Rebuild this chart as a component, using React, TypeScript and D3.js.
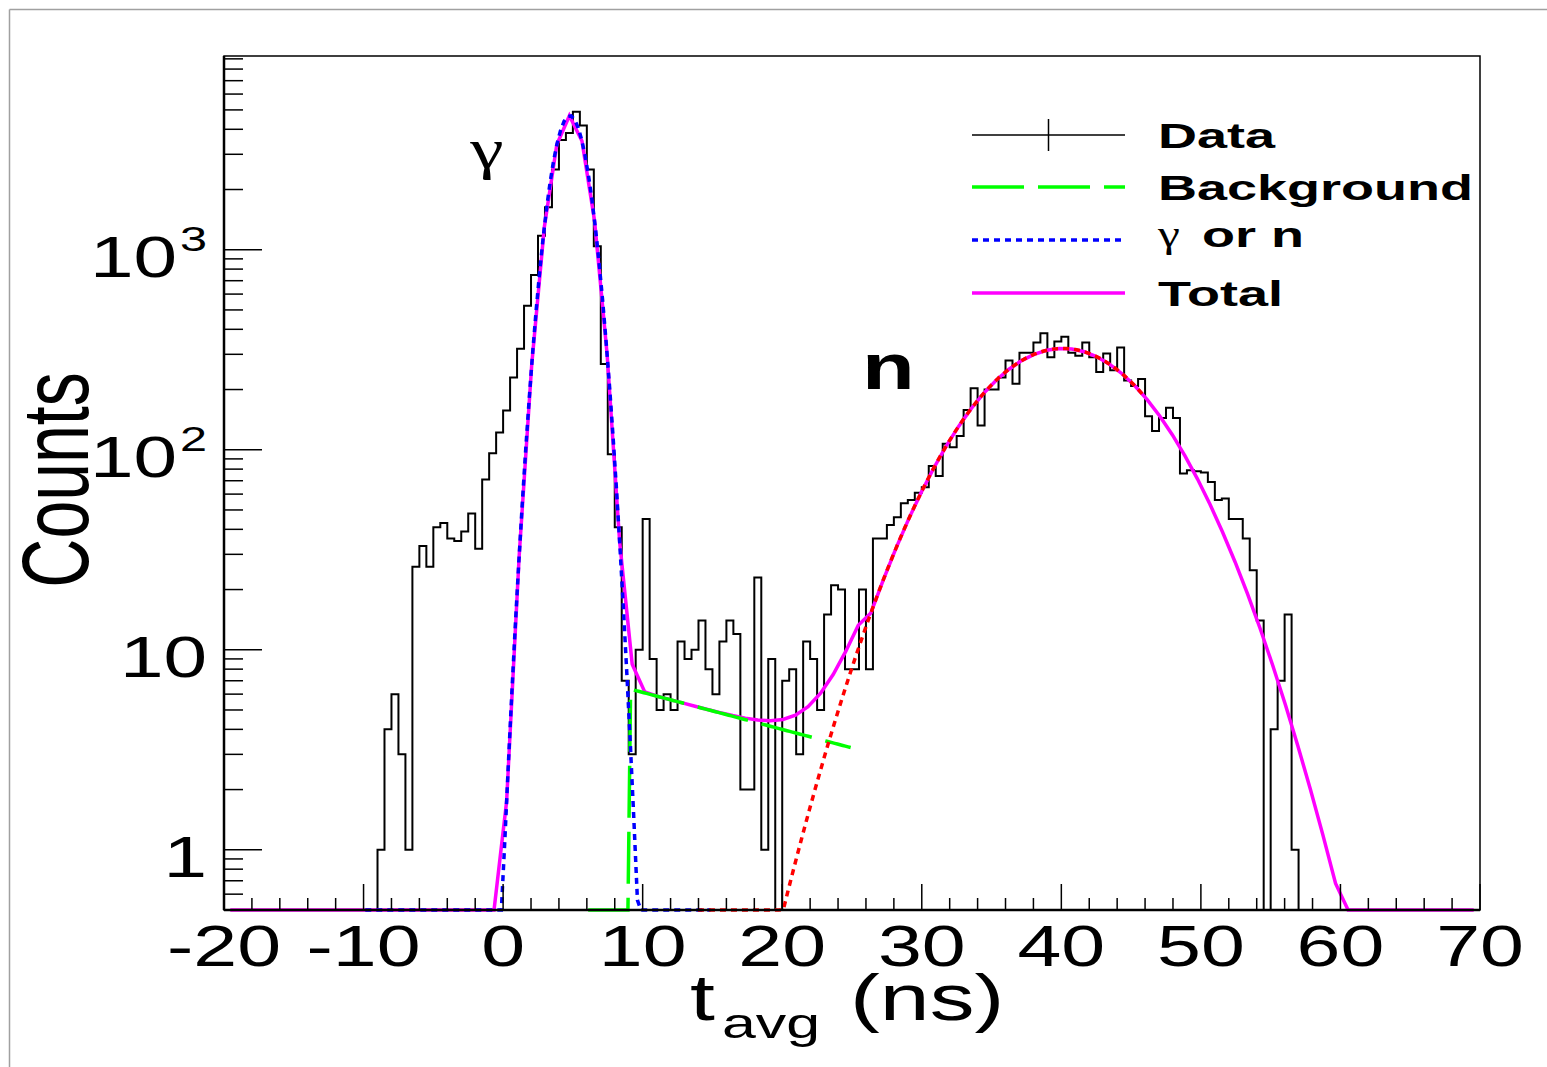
import React from 'react';
import * as d3 from 'd3';

// ---------- data ----------
const X_DOMAIN = [-20, 70];
const Y_DOMAIN = [0.5, 9300];
const BIN_WIDTH = 0.5;
const BIN_START = -9.0; // lower edge of the first non-empty bin

// counts per 0.5 ns bin, starting at t = -9.0 ns
const counts = [
  1, 4, 6, 3, 1, 26, 33, 26, 41, 43, 36, 35, 39, 48, 32, 71, 96, 122,
  157, 230, 320, 525, 748, 1175, 1630, 2520, 3540, 3830, 4900, 4180, 2520, 1040, 268, 95, 41, 7,
  3, 10, 45, 9, 5, 6, 5, 11, 9, 10, 14, 8, 6, 11, 14, 12, 2, 2, 23, 1, 9, 0,
  7, 8, 3, 11, 9, 5, 15, 21, 20, 8, 8, 20, 8, 36, 36, 42,
  46, 54, 56, 61, 65, 83, 74, 107, 103, 117, 158, 203, 132, 200, 200, 230, 279, 214,
  305, 305, 344, 382, 290, 348, 367, 305, 295, 344, 290, 245, 303, 250, 324, 222,
  208, 226, 147, 124, 144, 162, 144, 76, 79, 78, 77, 69, 56, 57, 45, 45, 36, 25,
  14, 0, 4, 7, 15, 1,
];

const xTickValues = [-20, -10, 0, 10, 20, 30, 40, 50, 60, 70];
const yTickValues = [1, 10, 100, 1000];
const yTickBase = ['1', '10', '10', '10'];
const yTickExp = ['', '', '2', '3'];

// fit parameters
const gammaFit = [4680, 4.78, 1.14]; // amplitude, mean, sigma
const gammaRange = [-10, 15];
const neutronFit = [321, 40.1, 5.57]; // amplitude, mean, sigma
const neutronRange = [13.8, 46];
const bkgFit = [6.36, 9.1, 0.0185]; // value at onset, onset time, log10 slope per ns
const bkgRange = [6, 25];
const bkgTotalEnd = 25.5;
const NPX = 100;

const legendLabels = ['Data', 'Background', 'or n', 'Total'];

// ---------- helpers ----------
const FONT = "'Liberation Sans', Arial, Helvetica, sans-serif";
const SERIF = "'Liberation Serif', 'DejaVu Serif', serif";
const SX = 1.5;

const gauss = (p: number[], t: number) => p[0] * Math.exp(-((t - p[1]) ** 2) / (2 * p[2] * p[2]));
const bkg = (t: number, end = Infinity) =>
  t >= bkgFit[1] && t <= end ? bkgFit[0] * Math.pow(10, -bkgFit[2] * (t - bkgFit[1])) : 0;
const total = (t: number) => gauss(gammaFit, t) + gauss(neutronFit, t) + bkg(t, bkgTotalEnd);

function sample(f: (t: number) => number, a: number, b: number, n: number) {
  const step = (b - a) / n;
  return d3.range(n).map((k) => {
    const t = a + (k + 0.5) * step;
    return [t, f(t)] as [number, number];
  });
}

function Txt(props: any) {
  const { x, y, size, sx = SX, anchor = 'start', weight = 'normal', family = FONT, rotate, children } = props;
  return (
    <text
      transform={`translate(${x},${y}) scale(${sx},1)${rotate ? ` rotate(${rotate})` : ''}`}
      fontSize={size}
      textAnchor={anchor}
      fontWeight={weight}
      fontFamily={family}
      fill="#000"
    >
      {children}
    </text>
  );
}

export default function App() {
  const W = 1547;
  const H = 1067;
  const left = 224, right = 1480, top = 56, bottom = 910;
  const x = d3.scaleLinear().domain(X_DOMAIN).range([left, right]);
  const y = d3.scaleLog().domain(Y_DOMAIN).range([bottom, top]);
  const yc = (v: number) => y(Math.max(v, Y_DOMAIN[0]));

  // histogram outline
  const nBins = Math.round((X_DOMAIN[1] - X_DOMAIN[0]) / BIN_WIDTH);
  const offset = Math.round((BIN_START - X_DOMAIN[0]) / BIN_WIDTH);
  const binVal = (i: number) => (i >= offset && i < offset + counts.length ? counts[i - offset] : 0);
  let hist = `M${x(X_DOMAIN[0])},${yc(binVal(0))}`;
  for (let i = 0; i < nBins; i++) {
    hist += `H${x(X_DOMAIN[0] + (i + 1) * BIN_WIDTH)}`;
    if (i < nBins - 1) hist += `V${yc(binVal(i + 1))}`;
  }

  const line = d3
    .line<[number, number]>()
    .x((d) => x(d[0]))
    .y((d) => yc(d[1]));

  const totalPts = sample(total, X_DOMAIN[0], X_DOMAIN[1], NPX);
  const gammaPts = sample((t) => gauss(gammaFit, t), gammaRange[0], gammaRange[1], NPX);
  const neutronPts = sample((t) => gauss(neutronFit, t), neutronRange[0], neutronRange[1], NPX);
  const bkgPts = sample((t) => bkg(t), bkgRange[0], bkgRange[1], NPX);

  // ticks
  const xMajor = xTickValues;
  const xMinor = d3.range(X_DOMAIN[0], X_DOMAIN[1] + 0.001, 2).filter((v) => v % 10 !== 0);
  const yMinor: number[] = [];
  for (let e = -1; e <= 3; e++) {
    for (let m = 2; m <= 9; m++) {
      const v = m * Math.pow(10, e);
      if (v >= Y_DOMAIN[0] && v <= Y_DOMAIN[1]) yMinor.push(v);
    }
  }

  const legX0 = 972, legX1 = 1125, legText = 1158;
  const legY = [135, 187, 240, 293];
  const legBase = [148, 200, 250, 306];

  return (
    <svg width={W} height={H} style={{ position: 'absolute', left: 0, top: 0, background: '#fff' }}>
      <rect x={0} y={0} width={W} height={H} fill="#fff" />
      {/* canvas border */}
      <line x1={9.5} y1={9.5} x2={W} y2={9.5} stroke="#a0a0a0" strokeWidth={1.5} />
      <line x1={9.5} y1={9.5} x2={9.5} y2={H} stroke="#a0a0a0" strokeWidth={1.5} />

      {/* histogram */}
      <path d={hist} fill="none" stroke="#000" strokeWidth={2} />

      {/* fit curves */}
      <path d={line(totalPts) || ''} fill="none" stroke="#ff00ff" strokeWidth={3.5} />
      <path d={line(bkgPts) || ''} fill="none" stroke="#00ff00" strokeWidth={3.5} strokeDasharray="52 14" />
      <path d={line(gammaPts) || ''} fill="none" stroke="#0000ff" strokeWidth={3.5} strokeDasharray="6 5" />
      <path d={line(neutronPts) || ''} fill="none" stroke="#ff0000" strokeWidth={3.5} strokeDasharray="6 5" />

      {/* frame */}
      <rect x={left} y={top} width={right - left} height={bottom - top} fill="none" stroke="#000" strokeWidth={1.5} />
      <line x1={left} y1={top} x2={left} y2={bottom} stroke="#000" strokeWidth={2.5} />
      <line x1={left} y1={bottom} x2={right} y2={bottom} stroke="#000" strokeWidth={2.5} />

      {/* x ticks */}
      {xMajor.map((v) => (
        <line key={'xM' + v} x1={x(v)} x2={x(v)} y1={bottom} y2={bottom - 26} stroke="#000" strokeWidth={1.5} />
      ))}
      {xMinor.map((v) => (
        <line key={'xm' + v} x1={x(v)} x2={x(v)} y1={bottom} y2={bottom - 12} stroke="#000" strokeWidth={1.5} />
      ))}
      {xTickValues.map((v) => (
        <Txt key={'xl' + v} x={x(v)} y={966} size={58} anchor="middle" sx={1.36}>
          {String(v)}
        </Txt>
      ))}

      {/* y ticks */}
      {yTickValues.map((v) => (
        <line key={'yM' + v} x1={left} x2={left + 38} y1={y(v)} y2={y(v)} stroke="#000" strokeWidth={1.5} />
      ))}
      {yMinor.map((v) => (
        <line key={'ym' + v} x1={left} x2={left + 19} y1={y(v)} y2={y(v)} stroke="#000" strokeWidth={1.5} />
      ))}
      {yTickValues.map((v, i) =>
        yTickExp[i] ? (
          <g key={'yl' + v}>
            <Txt x={177} y={y(v) + 27} size={58} anchor="end" sx={1.35}>
              {yTickBase[i]}
            </Txt>
            <Txt x={180} y={y(v) + 1} size={36} sx={1.35}>
              {yTickExp[i]}
            </Txt>
          </g>
        ) : (
          <Txt key={'yl' + v} x={207} y={y(v) + 27} size={58} anchor="end" sx={1.35}>
            {yTickBase[i]}
          </Txt>
        )
      )}

      {/* axis titles */}
      <Txt x={88} y={480} size={68} anchor="middle" rotate={-90} sx={1.4}>
        Counts
      </Txt>
      <Txt x={690} y={1020} size={64} sx={1.4}>
        t
      </Txt>
      <Txt x={722} y={1038} size={42} sx={1.45}>
        avg
      </Txt>
      <Txt x={850} y={1020} size={64} sx={1.4}>
        (ns)
      </Txt>

      {/* annotations */}
      <Txt x={487} y={168} size={58} anchor="middle" family={SERIF} sx={1.3}>
        γ
      </Txt>
      <Txt x={862} y={389} size={64} weight="bold" sx={1.35}>
        n
      </Txt>

      {/* legend */}
      <line x1={legX0} x2={legX1} y1={legY[0]} y2={legY[0]} stroke="#000" strokeWidth={1.5} />
      <line x1={(legX0 + legX1) / 2} x2={(legX0 + legX1) / 2} y1={legY[0] - 16} y2={legY[0] + 16} stroke="#000" strokeWidth={1.5} />
      <line x1={legX0} x2={legX1} y1={legY[1]} y2={legY[1]} stroke="#00ff00" strokeWidth={3.5} strokeDasharray="52 14" />
      <line x1={legX0} x2={legX1} y1={legY[2]} y2={legY[2]} stroke="#0000ff" strokeWidth={3.5} strokeDasharray="6 5" />
      <line x1={legX0} x2={legX1} y1={legY[3]} y2={legY[3]} stroke="#ff00ff" strokeWidth={3.5} />
      <Txt x={legText} y={legBase[0]} size={36} weight="bold">
        {legendLabels[0]}
      </Txt>
      <Txt x={legText} y={legBase[1]} size={36} weight="bold">
        {legendLabels[1]}
      </Txt>
      <Txt x={legText} y={legBase[2] - 3} size={38} family={SERIF} sx={1.3}>
        γ
      </Txt>
      <Txt x={1202} y={legBase[2] - 3} size={36} weight="bold">
        {legendLabels[2]}
      </Txt>
      <Txt x={legText} y={legBase[3]} size={36} weight="bold">
        {legendLabels[3]}
      </Txt>
    </svg>
  );
}
